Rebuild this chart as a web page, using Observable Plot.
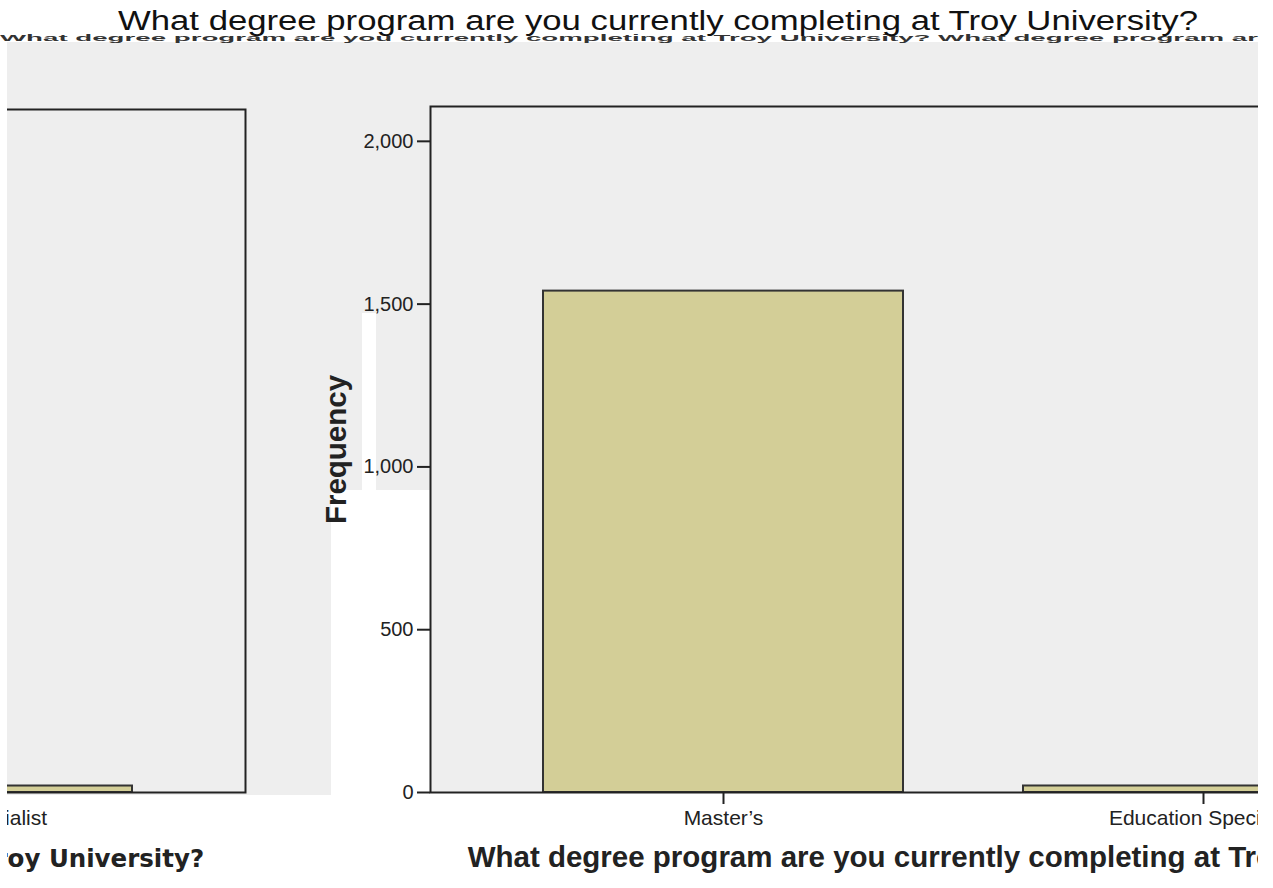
<!DOCTYPE html>
<html>
<head>
<meta charset="utf-8">
<script src="https://cdn.jsdelivr.net/npm/d3@7"></script>
<script src="https://cdn.jsdelivr.net/npm/@observablehq/plot@0.6"></script>
<style>
  html, body { margin: 0; padding: 0; background: #ffffff; }
  #page { position: relative; width: 1273px; height: 888px; overflow: hidden; background: #fff; }
  .bg { position: absolute; }
  .clip { position: absolute; top: 0; height: 888px; overflow: hidden; }
  .clip svg { position: absolute; top: 0; max-width: none !important; width: 1536px !important; height: 888px !important; }
  svg g[aria-label="y-axis label"] text, svg g[aria-label="x-axis label"] text { font-weight: bold; }
  #left g[aria-label="x-axis label"] text { font-family: "DejaVu Sans", sans-serif; }
  svg g[aria-label="y-axis tick"], svg g[aria-label="x-axis tick"] { stroke-width: 2; }
  #titles { position: absolute; left: 0; top: 0; }
</style>
</head>
<body>
<div id="page">
  <div class="bg" style="left:7px;top:42px;width:1251px;height:448px;background:#eeeeee"></div>
  <div class="bg" style="left:7px;top:490px;width:324px;height:305px;background:#eeeeee"></div>
  <div class="bg" style="left:362px;top:313px;width:14px;height:177px;background:#ffffff"></div>
  <div class="bg" style="left:331px;top:490px;width:99px;height:310px;background:#ffffff"></div>
  <div id="left" class="clip" style="left:7px;width:324px"></div>
  <div id="main" class="clip" style="left:0px;width:1258px"></div>
  <svg id="titles" width="1273" height="60"></svg>
</div>
<script>
// ---- data ----
const categories = ["Master\u2019s", "Education Specialist"];
const frequencies = [1540, 20];
const yTicks = [0, 500, 1000, 1500, 2000];
const questionTitle = "What degree program are you currently completing at Troy University?";
const yTitle = "Frequency";

const rows = categories.map((c, i) => ({category: c, frequency: frequencies[i]}));

function makeChart(marginTop) {
  return Plot.plot({
    width: 1536,
    height: 888,
    marginLeft: 430,
    marginRight: 40,
    marginTop: marginTop,
    marginBottom: 96,
    style: {background: "transparent", fontFamily: "'Liberation Sans', Arial, sans-serif", fontSize: "20px", color: "#222", maxWidth: "none"},
    x: {domain: categories, paddingInner: 0.25, paddingOuter: 0.235},
    y: {domain: [0, 2107]},
    marks: [
      Plot.frame({fill: "#eeeeee", stroke: null}),
      Plot.barY(rows, {x: "category", y: "frequency", fill: "#d3ce97", stroke: "#333", strokeWidth: 2}),
      Plot.frame({stroke: "#222", strokeWidth: 2}),
      Plot.axisY({ticks: yTicks, tickFormat: d3.format(","), tickSize: 13, tickPadding: 4,
        label: yTitle, labelAnchor: "center", labelOffset: 105, labelArrow: "none", fontSize: 20}),
      Plot.axisX({tickSize: 12, tickPadding: 6, label: questionTitle, labelAnchor: "center",
        labelOffset: 74, labelArrow: "none", fontSize: 21})
    ]
  });
}

const mainSvg = makeChart(106);
mainSvg.style.left = "0px";
document.getElementById("main").appendChild(mainSvg);
mainSvg.querySelectorAll('g[aria-label="y-axis label"] text, g[aria-label="x-axis label"] text').forEach(t => t.setAttribute("font-size", "29.5"));

const leftSvg = makeChart(109);
leftSvg.style.left = "-1258px";
document.getElementById("left").appendChild(leftSvg);
leftSvg.querySelectorAll('g[aria-label="x-axis label"] text').forEach(t => t.setAttribute("font-size", "24.5"));

// ---- top title with glitch line ----
const ns = "http://www.w3.org/2000/svg";
const titles = document.getElementById("titles");
const glitch = document.createElementNS(ns, "text");
glitch.setAttribute("x", "0");
glitch.setAttribute("y", "0");
glitch.setAttribute("transform", "translate(0,41) scale(1,0.38)");
glitch.setAttribute("textLength", "1258");
glitch.setAttribute("lengthAdjust", "spacingAndGlyphs");
glitch.setAttribute("font-family", "'Liberation Sans', Arial, sans-serif");
glitch.setAttribute("font-size", "26");
glitch.setAttribute("font-weight", "bold");
glitch.setAttribute("fill", "#333");
glitch.textContent = questionTitle + " " + questionTitle.slice(0, 22);
titles.appendChild(glitch);
const t = document.createElementNS(ns, "text");
t.setAttribute("x", "118");
t.setAttribute("y", "30");
t.setAttribute("textLength", "1080");
t.setAttribute("lengthAdjust", "spacingAndGlyphs");
t.setAttribute("font-family", "'Liberation Sans', Arial, sans-serif");
t.setAttribute("font-size", "27");
t.setAttribute("fill", "#111");
t.textContent = questionTitle;
titles.appendChild(t);
</script>
</body>
</html>
